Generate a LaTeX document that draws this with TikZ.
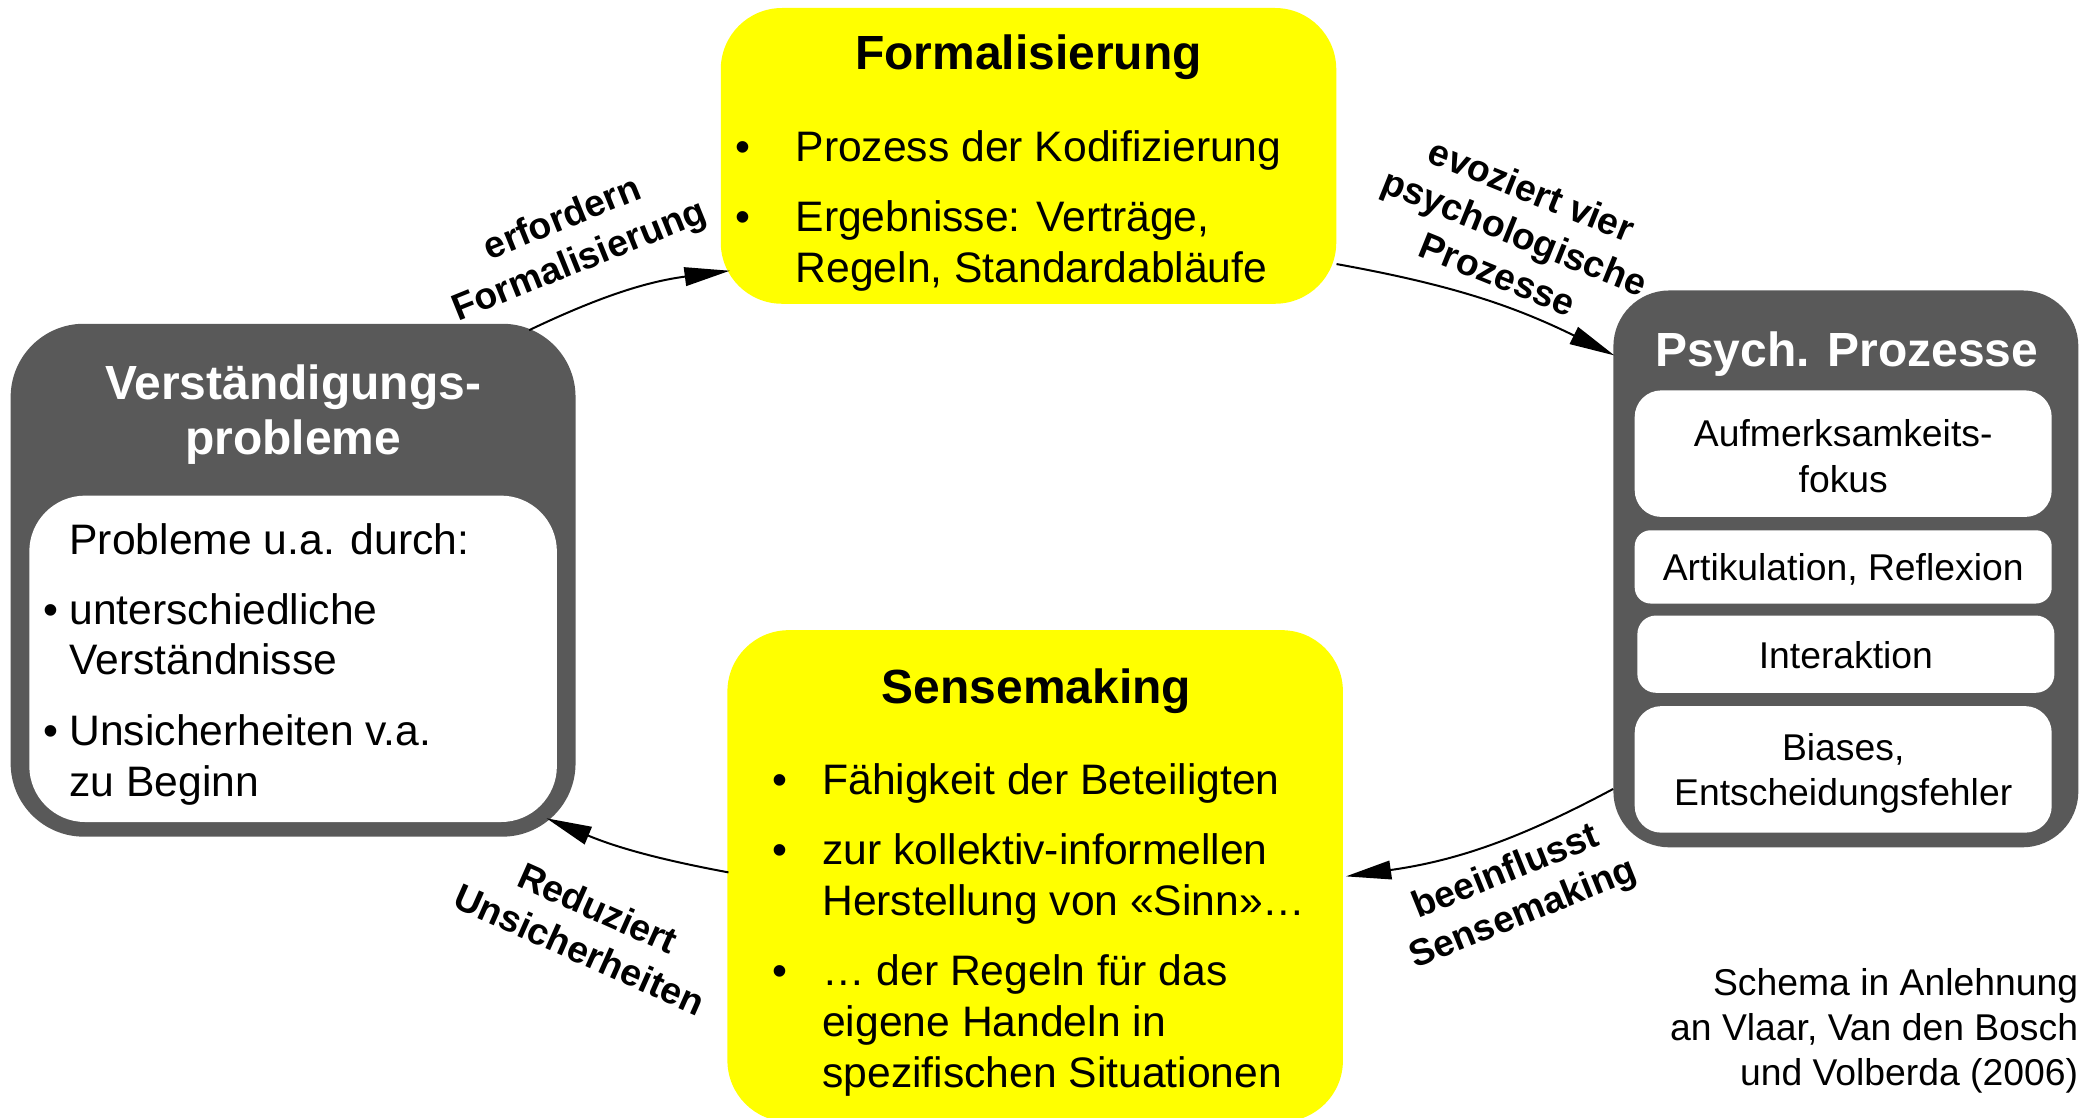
\documentclass[tikz,border=0pt]{standalone}
\usepackage{fontspec}
\setmainfont{Liberation Sans}
\usetikzlibrary{arrows.meta}
\definecolor{boxgray}{HTML}{595959}
\definecolor{hlyellow}{HTML}{FFFF00}

\tikzset{
  panel/.style={rectangle, inner sep=0pt, draw=none},
  graypanel/.style={panel, fill=boxgray, rounded corners=50pt},
  whitepanel/.style={panel, fill=white, rounded corners=#1},
  yellowpanel/.style={panel, fill=hlyellow, rounded corners=46pt},
  titletxt/.style={inner sep=0pt, anchor=base, font=\fontsize{36}{41}\selectfont\bfseries},
  bodytxt/.style={inner sep=0pt, anchor=base west, font=\fontsize{32}{38}\selectfont},
  smalltxt/.style={align=center, font=\fontsize{28}{34}\selectfont},
  notetxt/.style={inner sep=0pt, anchor=base east, font=\fontsize{28}{33.5}\selectfont},
  arrowlbl/.style={inner sep=0pt, align=center, font=\fontsize{28}{34}\selectfont\bfseries},
  conn/.style={line width=1.5pt, -{Triangle[length=34pt, width=14pt]}}
}

\begin{document}
\begin{tikzpicture}[x=1pt, y=1pt]
\useasboundingbox (0,-839) rectangle (1568,0);

% --- Verstaendigungsprobleme (left) ---
\node[graypanel, rounded corners=55pt, minimum width=424pt, minimum height=385pt] (verst) at (220,-435.5) {};
\node[whitepanel=42pt, minimum width=396pt, minimum height=245pt] (verstin) at (220,-494.5) {};
\node[titletxt, text=white] (vt1) at (220,-300) {Verständigungs-};
\node[titletxt, text=white] (vt2) at (220,-341) {probleme};
\node[bodytxt] (vb1) at (52,-416.5) {Probleme u.a. durch:};
\node[bodytxt] (vb2) at (52,-468.5) {\llap{•\hspace{8.5pt}}unterschiedliche};
\node[bodytxt] (vb3) at (52,-506.5) {Verständnisse};
\node[bodytxt] (vb4) at (52,-559.5) {\llap{•\hspace{8.5pt}}Unsicherheiten v.a.};
\node[bodytxt] (vb5) at (52,-597.5) {zu Beginn};

% --- Formalisierung (top) ---
\node[yellowpanel, minimum width=462pt, minimum height=222pt] (form) at (772,-117) {};
\node[titletxt] (ft) at (772,-52.5) {Formalisierung};
\node[bodytxt] (fb1) at (597,-121) {\llap{•\hspace{34pt}}Prozess der Kodifizierung};
\node[bodytxt] (fb2) at (597,-174) {\llap{•\hspace{34pt}}Ergebnisse: Verträge,};
\node[bodytxt] (fb3) at (597,-212) {Regeln, Standardabläufe};

% --- Sensemaking (bottom) ---
\node[yellowpanel, minimum width=462pt, minimum height=369pt] (sense) at (777,-657.5) {};
\node[titletxt] (st) at (778,-528) {Sensemaking};
\node[bodytxt] (sb1) at (617,-596) {\llap{•\hspace{26.5pt}}Fähigkeit der Beteiligten};
\node[bodytxt] (sb2) at (617,-649) {\llap{•\hspace{26.5pt}}zur kollektiv-informellen};
\node[bodytxt] (sb3) at (617,-687) {Herstellung von «Sinn»…};
\node[bodytxt] (sb4) at (617,-740) {\llap{•\hspace{26.5pt}}… der Regeln für das};
\node[bodytxt] (sb5) at (617,-778) {eigene Handeln in};
\node[bodytxt] (sb6) at (617,-816) {spezifischen Situationen};

% --- Psych. Prozesse (right) ---
\node[graypanel, rounded corners=42pt, minimum width=349pt, minimum height=418pt] (psych) at (1385.5,-427) {};
\node[titletxt, text=white] (pt) at (1386,-275) {Psych. Prozesse};
\node[whitepanel=20pt, smalltxt, minimum width=313pt, minimum height=95pt] (p1) at (1383.5,-340.5) {};
\node[smalltxt] (p1t) at (1383.5,-342.5) {Aufmerksamkeits-\\fokus};
\node[whitepanel=12pt, smalltxt, minimum width=313pt, minimum height=55pt] (p2) at (1383.5,-425.5) {};
\node[smalltxt] (p2t) at (1383.5,-427) {Artikulation, Reflexion};
\node[whitepanel=14pt, smalltxt, minimum width=313pt, minimum height=58pt] (p3) at (1385.5,-491) {};
\node[smalltxt] (p3t) at (1385.5,-492) {Interaktion};
\node[whitepanel=20pt, smalltxt, minimum width=313pt, minimum height=95pt] (p4) at (1383.5,-577.5) {};
\node[smalltxt] (p4t) at (1383.5,-580.5) {Biases,\\Entscheidungsfehler};

% --- source note ---
\node[notetxt] (n1) at (1560,-747.5) {Schema in Anlehnung};
\node[notetxt] (n2) at (1560,-781) {an Vlaar, Van den Bosch};
\node[notetxt] (n3) at (1560,-814.5) {und Volberda (2006)};

% --- connectors ---
\draw[conn] ([shift={(-35,-5)}]verst.north east) to[bend left=9] ([shift={(7,25)}]form.south west);
\draw[conn] ([shift={(0,30)}]form.south east) to[bend left=8] ([shift={(1,-49)}]psych.north west);
\draw[conn] ([shift={(0,44)}]psych.south west) to[bend left=10] ([shift={(2,-185)}]sense.north east);
\draw[conn] ([shift={(1,-182)}]sense.north west) to[bend left=6] ([shift={(-22,14)}]verst.south east);

% --- connector labels ---
\node[arrowlbl, rotate=22] (l1) at (429,-181) {erfordern\\Formalisierung};
\node[arrowlbl, rotate=-22] (l2) at (1137,-174) {evoziert vier\\psychologische\\Prozesse};
\node[arrowlbl, rotate=22] (l3) at (1137,-671) {beeinflusst\\Sensemaking};
\node[arrowlbl, rotate=-24] (l4) at (442,-697) {Reduziert\\Unsicherheiten};
\end{tikzpicture}
\end{document}
